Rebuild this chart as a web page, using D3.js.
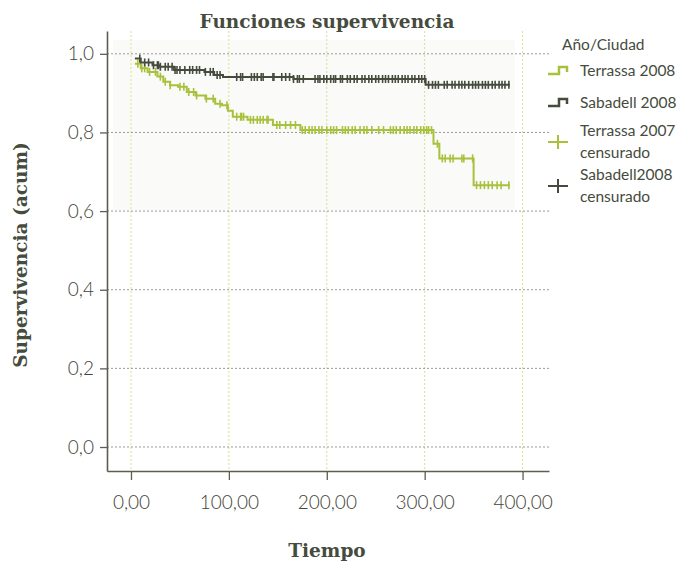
<!DOCTYPE html>
<html>
<head>
<meta charset="utf-8">
<script src="https://cdn.jsdelivr.net/npm/d3@7"></script>
<style>
  body { margin: 0; background: #fff; }
  #vis svg { display: block; }
</style>
</head>
<body>
<div id="vis"></div>
<script>
// survival curves (time in days, cumulative survival)
const terrassaTimes = [4, 10, 17, 27, 33, 40, 48, 57, 66, 76, 86, 93, 99, 104, 119, 145, 173, 309, 315, 350];
const terrassaSurv  = [0.975, 0.963, 0.954, 0.942, 0.929, 0.920, 0.916, 0.903, 0.894, 0.886, 0.873, 0.869, 0.855, 0.840, 0.832, 0.819, 0.806, 0.771, 0.734, 0.666];
const terrassaEnd = 387;

const sabadellTimes = [4, 10, 22, 29, 44, 75, 85, 94, 166, 301];
const sabadellSurv  = [0.988, 0.978, 0.971, 0.967, 0.959, 0.954, 0.946, 0.941, 0.936, 0.921];
const sabadellEnd = 387;

// censored cases
const terrassaCens = [7, 11, 14, 19, 25, 30, 35, 40, 50, 54, 59, 64, 67, 77, 84, 91, 98,
  108, 112, 113, 115, 122, 125, 129, 132, 135, 139, 140, 149, 152, 158, 163, 168,
  175, 178, 182, 185, 188, 192, 195, 200, 204, 207, 210, 216, 219, 222, 226, 229, 234, 238,
  241, 246, 253, 258, 265, 268, 271, 275, 279, 282, 285, 289, 292, 296, 299, 302, 304, 307,
  313, 318, 321, 326, 329, 338, 340, 349, 353, 357, 361, 365, 369, 374, 378, 386];
const sabadellCens = [9, 14, 18, 23, 27, 28, 30, 35, 38, 42, 45, 47, 50, 55, 60, 63, 67, 70, 76, 81, 84, 88, 91,
  108, 112, 114, 123, 126, 129, 133, 135, 145, 146, 154, 158, 162, 166, 170, 172, 176, 188, 191, 193,
  197, 200, 204, 207, 209, 214, 216, 221, 224, 228, 231, 236, 239, 243, 246, 250, 253, 257, 260, 263,
  267, 270, 273, 277, 280, 283, 287, 290, 294, 297, 300,
  304, 308, 311, 314, 320, 323, 328, 331, 335, 338, 341, 345, 349, 352, 355, 359, 362, 365, 369,
  372, 376, 379, 382, 386];

const xTicks = [0, 100, 200, 300, 400];
const yTicks = [0, 0.2, 0.4, 0.6, 0.8, 1.0];
const legendLabels = [['Terrassa 2008'], ['Sabadell 2008'], ['Terrassa 2007', 'censurado'], ['Sabadell2008', 'censurado']];

const green = '#a8c13c';
const dark = '#464c3d';
const textCol = '#454b3d';

const width = 681, height = 562;
const svg = d3.select('#vis').append('svg')
  .attr('width', width)
  .attr('height', height);

const x = d3.scaleLinear().domain([-24.5, 427]).range([107, 549]);
const y = d3.scaleLinear().domain([-0.061, 1.058]).range([471, 31]);

// faint shaded area behind upper plot
svg.append('rect')
  .attr('x', 113).attr('y', 40)
  .attr('width', 402).attr('height', 170)
  .attr('fill', '#fafaf8');

// vertical grid
svg.append('g')
  .selectAll('line')
  .data(xTicks)
  .join('line')
    .attr('x1', d => x(d)).attr('x2', d => x(d))
    .attr('y1', 31).attr('y2', 471)
    .attr('stroke', '#d6e08f')
    .attr('stroke-width', 1)
    .attr('stroke-dasharray', '2,2');

// horizontal grid
svg.append('g')
  .selectAll('line')
  .data(yTicks)
  .join('line')
    .attr('x1', 107).attr('x2', 549)
    .attr('y1', d => y(d)).attr('y2', d => y(d))
    .attr('stroke', '#9a9a96')
    .attr('stroke-width', 1)
    .attr('stroke-dasharray', '2,2');

// axes
const fmtX = v => d3.format('.2f')(v).replace('.', ',');
const fmtY = v => d3.format('.1f')(v).replace('.', ',');

const xAxis = svg.append('g')
  .attr('transform', 'translate(0,471)')
  .call(d3.axisBottom(x).tickValues(xTicks).tickFormat(fmtX).tickSize(9).tickSizeOuter(0).tickPadding(16));
const yAxis = svg.append('g')
  .attr('transform', 'translate(107,0)')
  .call(d3.axisLeft(y).tickValues(yTicks).tickFormat(fmtY).tickSize(7).tickSizeOuter(0).tickPadding(6));

[xAxis, yAxis].forEach(ax => {
  ax.select('.domain').attr('stroke', '#5a5f50').attr('stroke-width', 1.6);
  ax.selectAll('.tick line').attr('stroke', '#5a5f50').attr('stroke-width', 1.3);
  ax.selectAll('.tick text')
    .attr('fill', '#3f4537')
    .style('font-family', 'Lato, sans-serif')
    .style('font-weight', 300)
    .style('font-size', '19px');
});

// step curves
function stepData(times, surv, end) {
  const pts = times.map((t, i) => [t, surv[i]]);
  pts.push([end, surv[surv.length - 1]]);
  return pts;
}
function survAt(times, surv, t) {
  let s = surv[0];
  times.forEach((tt, i) => { if (tt <= t) s = surv[i]; });
  return s;
}

const line = d3.line()
  .x(d => x(d[0]))
  .y(d => y(d[1]))
  .curve(d3.curveStepAfter);

const series = [
  { times: terrassaTimes, surv: terrassaSurv, end: terrassaEnd, cens: terrassaCens, color: green },
  { times: sabadellTimes, surv: sabadellSurv, end: sabadellEnd, cens: sabadellCens, color: dark }
];

series.forEach(s => {
  svg.append('path')
    .datum(stepData(s.times, s.surv, s.end))
    .attr('d', line)
    .attr('fill', 'none')
    .attr('stroke', s.color)
    .attr('stroke-width', 2);

  svg.append('g')
    .selectAll('line')
    .data(s.cens)
    .join('line')
      .attr('x1', d => x(d)).attr('x2', d => x(d))
      .attr('y1', d => y(survAt(s.times, s.surv, d)) - 4)
      .attr('y2', d => y(survAt(s.times, s.surv, d)) + 4)
      .attr('stroke', s.color)
      .attr('stroke-width', 1.6);
});

// titles
const titleFont = sel => sel
  .attr('fill', textCol)
  .style('font-family', '"DejaVu Serif", serif')
  .style('font-weight', 'bold')
  .style('font-size', '18.5px');

svg.append('text')
  .attr('x', 327).attr('y', 28)
  .attr('text-anchor', 'middle')
  .call(titleFont)
  .text('Funciones supervivencia');

svg.append('text')
  .attr('x', 327).attr('y', 557)
  .attr('text-anchor', 'middle')
  .call(titleFont)
  .text('Tiempo');

svg.append('text')
  .attr('transform', 'translate(27,255) rotate(-90)')
  .attr('text-anchor', 'middle')
  .call(titleFont)
  .text('Supervivencia (acum)');

// legend
const legend = svg.append('g')
  .style('font-family', 'Lato, sans-serif')
  .style('font-size', '15.5px')
  .attr('fill', textCol);

legend.append('text')
  .attr('x', 562).attr('y', 45)
  .attr('dy', '0.35em')
  .text('Año/Ciudad');

const legendY = [71, 103, 142, 186];
const legendColors = [green, dark, green, dark];

legendLabels.forEach((lines, i) => {
  const cy = legendY[i];
  if (i < 2) {
    legend.append('path')
      .attr('d', `M548,${cy + 3}H559V${cy - 4}H567V${cy + 1}`)
      .attr('fill', 'none')
      .attr('stroke', legendColors[i])
      .attr('stroke-width', 2.5);
  } else {
    legend.append('path')
      .attr('d', `M548,${cy}H568M558,${cy - 7}V${cy + 7}`)
      .attr('fill', 'none')
      .attr('stroke', legendColors[i])
      .attr('stroke-width', 2);
  }
  const t = legend.append('text')
    .attr('x', 580)
    .attr('y', cy - (lines.length - 1) * 11)
    .attr('dy', '0.35em');
  lines.forEach((l, j) => {
    t.append('tspan')
      .attr('x', 580)
      .attr('dy', j === 0 ? '0.35em' : 22)
      .text(l);
  });
});
</script>
</body>
</html>
